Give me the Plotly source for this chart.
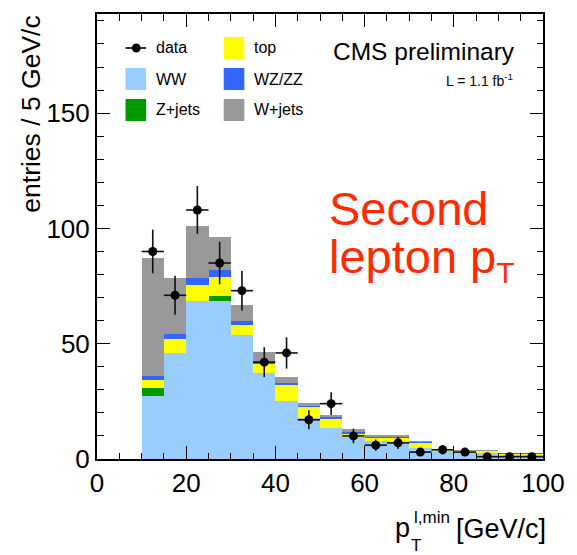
import plotly.graph_objects as go

# ---- data ----
bin_centers = [12.5, 17.5, 22.5, 27.5, 32.5, 37.5, 42.5, 47.5, 52.5, 57.5,
               62.5, 67.5, 72.5, 77.5, 82.5, 87.5, 92.5, 97.5]
ww     = [27.3, 46.0, 68.4, 68.4, 53.7, 37.1, 25.2, 17.6, 13.5, 9.4, 7.9, 7.0, 4.9, 3.6, 2.7, 2.4, 1.9, 1.9]
zjets  = [3.4, 0.0, 0.0, 2.2, 0.0, 0.0, 0.0, 0.0, 0.0, 0.0, 0.0, 0.0, 0.0, 0.0, 0.0, 0.0, 0.0, 0.0]
top    = [3.5, 6.1, 7.2, 8.3, 4.3, 4.3, 6.7, 5.1, 4.2, 1.7, 1.5, 2.3, 2.2, 0.4, 0.8, 1.2, 0.3, 0.3]
wzzz   = [1.7, 2.3, 2.8, 2.9, 1.7, 1.2, 0.9, 0.5, 0.5, 0.5, 0.4, 0.3, 0.3, 0.2, 0.2, 0.1, 0.2, 0.2]
wjets  = [51.4, 24.0, 22.5, 14.4, 7.1, 3.7, 2.6, 1.3, 1.0, 1.4, 0.6, 0.5, 0.4, 0.1, 0.2, 0.1, 0.0, 0.0]
data   = [90, 71, 108, 85, 73, 42, 46, 17, 24, 10, 6, 7, 3, 4, 3, 1, 1, 1]
bin_width = 5

x_ticks = [0, 20, 40, 60, 80, 100]
y_ticks = [0, 50, 100, 150]

colors = {"WW": "#99ccff", "Z+jets": "#009900", "top": "#ffff00",
          "WZ/ZZ": "#3366ff", "W+jets": "#999999"}

FONT = "Liberation Sans, Arial, Helvetica, sans-serif"
W, H = 577, 555
L, R, T, B = 97, 551, 14, 459


def px(x):
    return (x - L) / (R - L)


def py(y):
    return (B - y) / (B - T)


fig = go.Figure()
for name, vals in [("WW", ww), ("Z+jets", zjets), ("top", top),
                   ("WZ/ZZ", wzzz), ("W+jets", wjets)]:
    fig.add_trace(go.Bar(x=bin_centers, y=vals, width=bin_width, name=name,
                         marker=dict(color=colors[name], line=dict(width=0)),
                         showlegend=False))

errs = [v ** 0.5 for v in data]
fig.add_trace(go.Scatter(
    x=bin_centers, y=data, mode="markers", name="data",
    marker=dict(color="black", size=9),
    error_y=dict(type="data", array=errs, color="#111111", thickness=1.6, width=0),
    error_x=dict(type="constant", value=bin_width / 2, color="#111111", thickness=1.6, width=0),
    showlegend=False))

axis_common = dict(showline=True, linecolor="black", linewidth=2, mirror="ticks",
                   ticks="inside", ticklen=13, tickwidth=1.3, tickcolor="black",
                   showgrid=False, zeroline=False,
                   tickfont=dict(family=FONT, size=26, color="black"))

fig.update_xaxes(range=[0, 100], tickvals=x_ticks,
                 minor=dict(dtick=5, ticks="inside", ticklen=6.5, tickwidth=1.3,
                            tickcolor="black", showgrid=False),
                 **axis_common)
fig.update_yaxes(range=[0, 193], tickvals=y_ticks,
                 minor=dict(dtick=10, ticks="inside", ticklen=6.5, tickwidth=1.3,
                            tickcolor="black", showgrid=False),
                 **axis_common)

shapes = []
annotations = []

# legend
leg_font = dict(family=FONT, size=16, color="black")
rows = [48, 79, 110]
col1_sw, col2_sw = 126, 226
sw_w, sw_h = 21, 22
legend_boxes = [("WW", col1_sw, rows[1]), ("Z+jets", col1_sw, rows[2]),
                ("top", col2_sw, rows[0]), ("WZ/ZZ", col2_sw, rows[1]),
                ("W+jets", col2_sw, rows[2])]
for name, x0, yc in legend_boxes:
    shapes.append(dict(type="rect", xref="paper", yref="paper",
                       x0=px(x0), x1=px(x0 + sw_w),
                       y0=py(yc + sw_h / 2), y1=py(yc - sw_h / 2),
                       fillcolor=colors[name], line=dict(width=0)))
    annotations.append(dict(xref="paper", yref="paper", x=px(x0 + 29), y=py(yc),
                            xanchor="left", yanchor="middle", text=name,
                            showarrow=False, font=leg_font))
# data legend entry
shapes.append(dict(type="line", xref="paper", yref="paper",
                   x0=px(126), x1=px(147), y0=py(rows[0]), y1=py(rows[0]),
                   line=dict(color="black", width=1.6)))
shapes.append(dict(type="circle", xref="paper", yref="paper",
                   x0=px(132.5), x1=px(141.5), y0=py(rows[0] + 4.5), y1=py(rows[0] - 4.5),
                   fillcolor="black", line=dict(width=0)))
annotations.append(dict(xref="paper", yref="paper", x=px(155), y=py(rows[0]),
                        xanchor="left", yanchor="middle", text="data",
                        showarrow=False, font=leg_font))

# CMS preliminary
annotations.append(dict(xref="paper", yref="paper", x=px(525), y=py(51),
                        xanchor="right", yanchor="middle", text="CMS preliminary",
                        showarrow=False, font=dict(family=FONT, size=24.5, color="black")))
annotations.append(dict(xref="paper", yref="paper", x=px(522), y=py(80),
                        xanchor="right", yanchor="middle",
                        text="L = 1.1 fb<sup>-1</sup>",
                        showarrow=False, font=dict(family=FONT, size=14, color="black")))

# red label
red = "#ff2a00"
annotations.append(dict(xref="paper", yref="paper", x=px(331), y=py(208),
                        xanchor="left", yanchor="middle", text="Second",
                        showarrow=False, font=dict(family=FONT, size=47, color=red)))
annotations.append(dict(xref="paper", yref="paper", x=px(331), y=py(259),
                        xanchor="left", yanchor="middle",
                        text="lepton p<sub><span style='font-size:30px'>T</span></sub>",
                        showarrow=False, font=dict(family=FONT, size=47, color=red)))

# y title
annotations.append(dict(xref="paper", yref="paper", x=px(29), y=py(14),
                        xanchor="center", yanchor="top", textangle=-90,
                        text="entries / 5 GeV/c", showarrow=False,
                        font=dict(family=FONT, size=26.5, color="black")))

# x title
xt_font = dict(family=FONT, size=27, color="black")
annotations.append(dict(xref="paper", yref="paper", x=px(418), y=py(528),
                        xanchor="right", yanchor="middle", text="p",
                        showarrow=False, font=xt_font))
annotations.append(dict(xref="paper", yref="paper", x=px(415), y=py(545),
                        xanchor="left", yanchor="middle", text="T",
                        showarrow=False, font=dict(family=FONT, size=17, color="black")))
annotations.append(dict(xref="paper", yref="paper", x=px(418), y=py(517),
                        xanchor="left", yanchor="middle", text="l,min",
                        showarrow=False, font=dict(family=FONT, size=17, color="black")))
annotations.append(dict(xref="paper", yref="paper", x=px(556), y=py(529),
                        xanchor="right", yanchor="middle", text="[GeV/c]",
                        showarrow=False, font=xt_font))

fig.update_layout(
    width=W, height=H, barmode="stack", bargap=0,
    margin=dict(l=L, r=W - R, t=T, b=H - B, pad=0),
    plot_bgcolor="white", paper_bgcolor="white",
    showlegend=False, shapes=shapes, annotations=annotations,
    font=dict(family=FONT, color="black"),
)

fig.write_html("out.html")
